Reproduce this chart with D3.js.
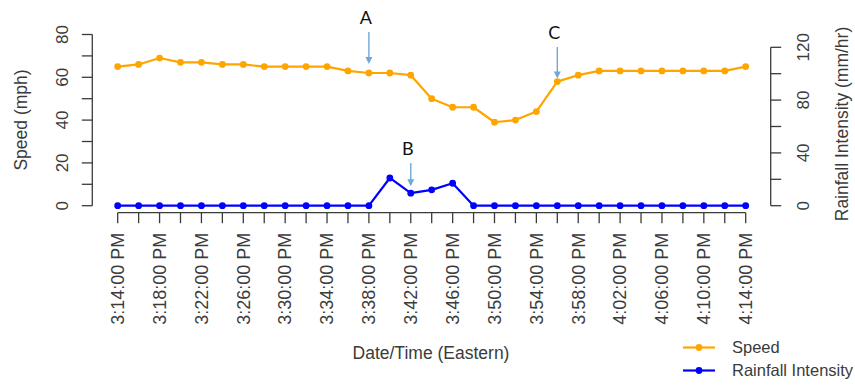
<!DOCTYPE html>
<html>
<head>
<meta charset="utf-8">
<script src="https://cdn.jsdelivr.net/npm/d3@7"></script>
<style>
  html, body { margin: 0; padding: 0; background: #fff; }
  svg { display: block; font-family: "Liberation Sans", Arial, sans-serif; }
</style>
</head>
<body>
<svg id="chart" width="855" height="386"></svg>
<script>
// Observation times, every 2 minutes from 3:14 PM to 4:14 PM (Eastern)
const startTime = "15:14";
const endTime = "16:14";
const stepMinutes = 2;

// Vehicle speed (mph) at each observation
const speed = [65, 66, 69, 67, 67, 66, 66, 65, 65, 65, 65, 63, 62, 62, 61, 50,
               46, 46, 39, 40, 44, 58, 61, 63, 63, 63, 63, 63, 63, 63, 65];

// Rainfall intensity (mm/hr) at each observation
const rainfall = [0, 0, 0, 0, 0, 0, 0, 0, 0, 0, 0, 0, 0, 21, 9.5, 12,
                  17, 0, 0, 0, 0, 0, 0, 0, 0, 0, 0, 0, 0, 0, 0];

// Axis ticks
const speedTicks = [0, 10, 20, 30, 40, 50, 60, 70, 80];
const speedLabels = [0, 20, 40, 60, 80];
const rainTicks = [0, 20, 40, 60, 80, 100, 120];
const rainLabels = [0, 40, 80, 120];

// Event markers: label, time, which series it points at
const markers = [
  { label: "A", time: "15:38", series: "speed", top: 32, gap: 9 },
  { label: "B", time: "15:42", series: "rain", top: 163, gap: 7 },
  { label: "C", time: "15:56", series: "speed", top: 47, gap: 3 }
];

const parse = d3.timeParse("%H:%M");
const t0 = parse(startTime), t1 = parse(endTime);
const times = d3.range(0, 31).map(i => d3.timeMinute.offset(t0, i * stepMinutes))
  .filter(d => d <= t1);
// Every other observation gets a label
const labelTimes = times.filter((d, i) => i % 2 === 0);

const speedData = times.map((t, i) => ({ t, v: speed[i] }));
const rainData = times.map((t, i) => ({ t, v: rainfall[i] }));

const svg = d3.select("#chart");
const ink = "#3b3b3b";

const x = d3.scaleTime().domain([t0, t1]).range([117.7, 745.7]);
const yL = d3.scaleLinear().domain([0, 80]).range([205.7, 34.5]);
const yR = d3.scaleLinear().domain([0, 120]).range([205.7, 47.3]);

const fmt = d3.timeFormat("%-I:%M:00 %p");

// Bottom axis
const xAxisY = 212.7;
const gx = svg.append("g").attr("transform", `translate(0,${xAxisY})`);
gx.append("line").attr("x1", x(t0)).attr("x2", x(t1))
  .attr("stroke", ink).attr("stroke-width", 1.3);
gx.selectAll("line.tick").data(times).join("line").attr("class", "tick")
  .attr("x1", d => x(d)).attr("x2", d => x(d)).attr("y1", 0).attr("y2", 10.5)
  .attr("stroke", ink).attr("stroke-width", 1.3);
gx.selectAll("text").data(labelTimes).join("text")
  .attr("transform", d => `translate(${x(d)},20) rotate(-90)`)
  .attr("text-anchor", "end").attr("dy", "0.35em")
  .attr("font-size", 18).attr("fill", ink)
  .text(d => fmt(d));

// Left axis
const gl = svg.append("g").attr("transform", "translate(92.3,0)");
gl.append("line").attr("y1", yL(0)).attr("y2", yL(80))
  .attr("stroke", ink).attr("stroke-width", 1.3);
gl.selectAll("line.tick").data(speedTicks).join("line").attr("class", "tick")
  .attr("x1", 0).attr("x2", -10.5).attr("y1", d => yL(d)).attr("y2", d => yL(d))
  .attr("stroke", ink).attr("stroke-width", 1.3);
gl.selectAll("text").data(speedLabels).join("text")
  .attr("transform", d => `translate(-30,${yL(d)}) rotate(-90)`)
  .attr("text-anchor", "middle").attr("dy", "0.35em")
  .attr("font-size", 17).attr("fill", ink).text(d => d);

// Right axis
const gr = svg.append("g").attr("transform", "translate(770.7,0)");
gr.append("line").attr("y1", yR(0)).attr("y2", yR(120))
  .attr("stroke", ink).attr("stroke-width", 1.3);
gr.selectAll("line.tick").data(rainTicks).join("line").attr("class", "tick")
  .attr("x1", 0).attr("x2", 10.5).attr("y1", d => yR(d)).attr("y2", d => yR(d))
  .attr("stroke", ink).attr("stroke-width", 1.3);
gr.selectAll("text").data(rainLabels).join("text")
  .attr("transform", d => `translate(32,${yR(d)}) rotate(-90)`)
  .attr("text-anchor", "middle").attr("dy", "0.35em")
  .attr("font-size", 17).attr("fill", ink).text(d => d);

// Axis titles
svg.append("text").attr("transform", "translate(21,120) rotate(-90)")
  .attr("text-anchor", "middle").attr("dy", "0.35em")
  .attr("font-size", 17.5).attr("fill", ink).text("Speed (mph)");
svg.append("text").attr("transform", "translate(842,124) rotate(-90)")
  .attr("text-anchor", "middle").attr("dy", "0.35em")
  .attr("font-size", 17.5).attr("fill", ink).text("Rainfall Intensity (mm/hr)");
svg.append("text").attr("x", 431).attr("y", 359)
  .attr("text-anchor", "middle")
  .attr("font-size", 17.5).attr("fill", ink).text("Date/Time (Eastern)");

// Series
function drawSeries(data, y, color) {
  const line = d3.line().x(d => x(d.t)).y(d => y(d.v));
  svg.append("path").datum(data).attr("d", line)
    .attr("fill", "none").attr("stroke", color).attr("stroke-width", 2.2)
    .attr("stroke-linejoin", "round");
  svg.append("g").selectAll("circle").data(data).join("circle")
    .attr("cx", d => x(d.t)).attr("cy", d => y(d.v)).attr("r", 3.4)
    .attr("fill", color);
}
drawSeries(speedData, yL, "#FFA500");
drawSeries(rainData, yR, "#0000FF");

// Event annotations
const arrowColor = "#6fa8dc";
markers.forEach(m => {
  const t = parse(m.time);
  const i = times.findIndex(d => +d === +t);
  const py = m.series === "speed" ? yL(speed[i]) : yR(rainfall[i]);
  const px = x(t);
  const tipY = py - m.gap;
  svg.append("line").attr("x1", px).attr("x2", px)
    .attr("y1", m.top).attr("y2", tipY - 6)
    .attr("stroke", arrowColor).attr("stroke-width", 1.4);
  svg.append("path")
    .attr("d", `M${px - 3.5},${tipY - 7} L${px + 3.5},${tipY - 7} L${px},${tipY} Z`)
    .attr("fill", arrowColor);
  svg.append("text").attr("x", px - 3).attr("y", m.top - 8)
    .attr("text-anchor", "middle")
    .attr("font-family", "Lato, 'Open Sans', sans-serif")
    .attr("font-size", 18).attr("fill", "#111").text(m.label);
});

// Legend
const legend = [
  { name: "Speed", color: "#FFA500", y: 347.5 },
  { name: "Rainfall Intensity", color: "#0000FF", y: 370.5 }
];
const lg = svg.append("g");
legend.forEach(l => {
  lg.append("line").attr("x1", 683).attr("x2", 715).attr("y1", l.y).attr("y2", l.y)
    .attr("stroke", l.color).attr("stroke-width", 2.2);
  lg.append("circle").attr("cx", 699).attr("cy", l.y).attr("r", 3.4).attr("fill", l.color);
  lg.append("text").attr("x", 732).attr("y", l.y).attr("dy", "0.35em")
    .attr("font-size", 16.5).attr("fill", ink).text(l.name);
});
</script>
</body>
</html>
